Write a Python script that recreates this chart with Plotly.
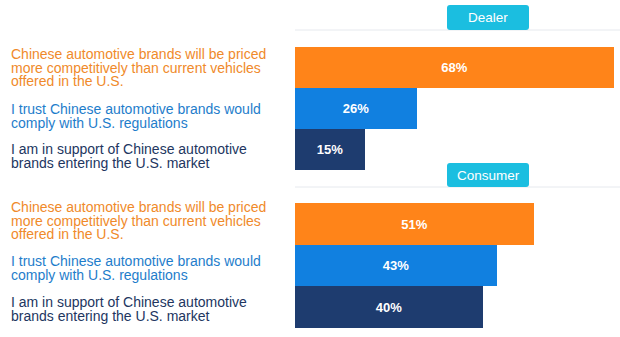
import plotly.graph_objects as go

# ---- data ----
sections = ["Dealer", "Consumer"]
statements = [
    ["Chinese automotive brands will be priced", "more competitively than current vehicles", "offered in the U.S."],
    ["I trust Chinese automotive brands would", "comply with U.S. regulations"],
    ["I am in support of Chinese automotive", "brands entering the U.S. market"],
]
dealer_values = [68, 26, 15]
consumer_values = [51, 43, 40]

# ---- style ----
bar_colors = ["#FF8419", "#1180E0", "#1E3C6F"]
text_colors = ["#F08A2A", "#1E7DCB", "#22365F"]
badge_color = "#1BBEE0"
W, H = 620, 337
ML, MR = 295, 6
plot_w = W - ML - MR
FONT = "Liberation Sans, Arial, Helvetica, sans-serif"

# vertical layout (pixels from top)
dealer_px = (47, 170)
consumer_px = (203, 328)
def dom(p):
    return [1 - p[1] / H, 1 - p[0] / H]

cats = [0, 1, 2]
fig = go.Figure()
for vals, ax in [(dealer_values, "y"), (consumer_values, "y2")]:
    fig.add_trace(go.Bar(
        x=vals, y=cats, orientation="h", yaxis=ax,
        marker=dict(color=bar_colors, line=dict(width=0)),
        text=[f"{v}%" for v in vals], textposition="inside",
        insidetextanchor="middle",
        textfont=dict(color="white", size=13, family=FONT, weight="bold"),
        showlegend=False, hoverinfo="skip", width=1.0,
    ))

axis_common = dict(type="linear", range=[2.5, -0.5], visible=False, fixedrange=True)
fig.update_layout(
    width=W, height=H,
    margin=dict(l=ML, r=MR, t=0, b=0),
    paper_bgcolor="white", plot_bgcolor="white",
    bargap=0,
    xaxis=dict(range=[0, 68], visible=False),
    yaxis=dict(domain=dom(dealer_px), **axis_common),
    yaxis2=dict(domain=dom(consumer_px), anchor="x", **axis_common),
)

# statement labels: one annotation per statement; small base font sets the
# tight line spacing, inner span sets the visible glyph size
line_gap = 13.7
base_size = line_gap / 1.3
first_offsets = {"y": [-13.5, 0.5, -0.5], "y2": [-17, -4.3, -4.8]}
for ax in ["y", "y2"]:
    for i, lines in enumerate(statements):
        txt = "<br>".join(f"<span style='font-size:14px'>{ln}</span>" for ln in lines)
        center = first_offsets[ax][i] + (len(lines) - 1) * line_gap / 2
        fig.add_annotation(
            x=(9 - ML) / plot_w, xref="paper", xanchor="left",
            y=cats[i], yref=ax, yanchor="middle",
            yshift=-center,
            text=txt, showarrow=False, align="left",
            font=dict(size=base_size, color=text_colors[i], family=FONT),
        )

# section badges and separator lines
badges = [(5, 30, 30), (163, 187, 187)]
for name, (top, bot, sep) in zip(sections, badges):
    fig.add_shape(type="line", xref="paper", yref="paper",
                  x0=0, x1=(W - ML) / plot_w, y0=1 - sep / H, y1=1 - sep / H,
                  line=dict(color="#E6E9EE", width=1), layer="below")
    x0, x1 = (447 - ML) / plot_w, (529 - ML) / plot_w
    y0, y1 = 1 - bot / H, 1 - top / H
    rx, ry = 3 / plot_w, 3 / H
    path = (f"M{x0+rx},{y0} L{x1-rx},{y0} Q{x1},{y0} {x1},{y0+ry} "
            f"L{x1},{y1-ry} Q{x1},{y1} {x1-rx},{y1} L{x0+rx},{y1} "
            f"Q{x0},{y1} {x0},{y1-ry} L{x0},{y0+ry} Q{x0},{y0} {x0+rx},{y0} Z")
    fig.add_shape(type="path", xref="paper", yref="paper", path=path,
                  fillcolor=badge_color, line=dict(width=0))
    fig.add_annotation(x=(488 - ML) / plot_w, xref="paper", xanchor="center",
                       y=1 - (top + bot) / 2 / H, yref="paper", yanchor="middle",
                       text=name, showarrow=False,
                       font=dict(size=13.5, color="white", family=FONT))

fig.write_html("out.html")
